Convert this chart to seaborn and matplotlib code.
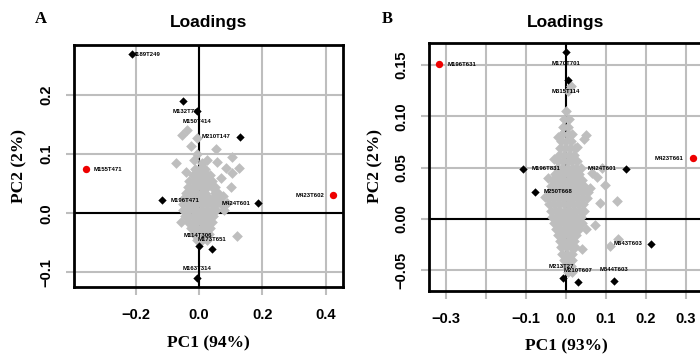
import matplotlib
matplotlib.use("Agg")
import matplotlib.pyplot as plt
import seaborn as sns
import pandas as pd

sns.set_style("white")
plt.rcParams['font.family'] = ['Liberation Sans', 'DejaVu Sans']
plt.rcParams['text.color'] = 'black'
plt.rcParams['xtick.labelcolor'] = 'black'
plt.rcParams['ytick.labelcolor'] = 'black'

# ============================================================
#  DATA — panel A (PC1 94%)
# ============================================================

a_gray = [
    (-0.012, 0.075), (0.003, 0.075), (0.018, 0.075),
    (-0.020, 0.065), (-0.005, 0.065), (0.010, 0.065), (0.025, 0.065), (0.035, 0.065),
    (-0.030, 0.055), (-0.015, 0.055), (0.000, 0.055), (0.015, 0.055), (0.030, 0.055), (0.040, 0.055),
    (-0.035, 0.045), (-0.020, 0.045), (-0.005, 0.045), (0.010, 0.045), (0.025, 0.045), (0.040, 0.045), (0.050, 0.045),
    (-0.040, 0.035), (-0.025, 0.035), (-0.010, 0.035), (0.005, 0.035), (0.020, 0.035), (0.050, 0.035), (0.060, 0.035),
    (-0.045, 0.025), (-0.030, 0.025), (-0.015, 0.025), (0.000, 0.025), (0.015, 0.025), (0.030, 0.025), (0.045, 0.025), (0.060, 0.025),
    (-0.050, 0.015), (-0.035, 0.015), (-0.020, 0.015), (-0.005, 0.015), (0.010, 0.015), (0.025, 0.015), (0.040, 0.015), (0.055, 0.015), (0.070, 0.015),
    (-0.050, 0.005), (-0.035, 0.005), (-0.020, 0.005), (-0.005, 0.005), (0.010, 0.005), (0.025, 0.005), (0.040, 0.005), (0.055, 0.005),
    (-0.045, -0.005), (-0.030, -0.005), (-0.015, -0.005), (0.000, -0.005), (0.015, -0.005), (0.030, -0.005), (0.045, -0.005),
    (-0.035, -0.015), (-0.020, -0.015), (-0.005, -0.015), (0.010, -0.015), (0.025, -0.015), (0.040, -0.015),
    (-0.025, -0.025), (-0.010, -0.025), (0.005, -0.025), (0.020, -0.025), (0.035, -0.025),
    (-0.015, -0.035), (0.000, -0.035), (0.015, -0.035), (0.030, -0.035),
    (-0.005, -0.045), (0.010, -0.045), (0.025, -0.045),
    (-0.054, 0.132), (-0.038, 0.141), (-0.026, 0.114), (-0.006, 0.127), (0.053, 0.109),
    (-0.072, 0.085), (-0.016, 0.090), (0.025, 0.090), (0.057, 0.087), (0.104, 0.095),
    (0.085, 0.076), (0.104, 0.068), (0.126, 0.076), (0.100, 0.044), (-0.057, -0.015),
    (0.120, -0.039), (-0.047, 0.025), (0.088, 0.017), (0.075, 0.030), (-0.005, 0.100),
    (0.010, 0.085), (0.070, 0.060), (-0.040, 0.070), (0.080, 0.005),
]
a_black_x = [-0.211, -0.050, -0.006, 0.129, -0.117, 0.186, 0.000, 0.041, -0.006]
a_black_y = [0.269, 0.190, 0.173, 0.129, 0.022, 0.017, -0.056, -0.061, -0.110]
a_red_x = [-0.356, 0.422]
a_red_y = [0.075, 0.031]
a_labels = ["M189T249", "M132T78", "M150T414", "M210T147", "M155T471", "M423T602",
            "M196T471", "M424T601", "M114T306", "M173T651", "M163T314"]
a_label_x = [-0.167, -0.044, -0.005, 0.055, -0.287, 0.350, -0.0425, 0.1165, -0.002, 0.0425, -0.005]
a_label_y = [0.269, 0.173, 0.156, 0.130, 0.0746, 0.0305, 0.022, 0.017, -0.037, -0.044, -0.093]
a_xticks = [-0.2, 0.0, 0.2, 0.4]
a_xticklabels = ["\u22120.2", "0.0", "0.2", "0.4"]
a_yticks = [-0.1, 0.0, 0.1, 0.2]
a_yticklabels = ["\u22120.1", "0.0", "0.1", "0.2"]

# ============================================================
#  DATA — panel B (PC1 93%)
# ============================================================

b_gray = [
    (0.000, 0.105),
    (-0.005, 0.097), (0.007, 0.097),
    (-0.008, 0.090), (0.005, 0.090),
    (-0.010, 0.083), (0.005, 0.083), (0.015, 0.083),
    (-0.012, 0.076), (0.000, 0.076), (0.012, 0.076),
    (-0.015, 0.069), (-0.002, 0.069), (0.010, 0.069), (0.022, 0.069),
    (-0.018, 0.062), (-0.005, 0.062), (0.008, 0.062), (0.020, 0.062),
    (-0.020, 0.056), (-0.008, 0.056), (0.004, 0.056), (0.016, 0.056), (0.028, 0.056),
    (-0.022, 0.050), (-0.010, 0.050), (0.002, 0.050), (0.014, 0.050), (0.026, 0.050), (0.038, 0.050),
    (-0.028, 0.044), (-0.016, 0.044), (-0.004, 0.044), (0.008, 0.044), (0.020, 0.044), (0.032, 0.044),
    (-0.032, 0.038), (-0.020, 0.038), (-0.008, 0.038), (0.004, 0.038), (0.016, 0.038), (0.028, 0.038), (0.040, 0.038),
    (-0.038, 0.032), (-0.026, 0.032), (-0.014, 0.032), (-0.002, 0.032), (0.010, 0.032), (0.022, 0.032), (0.034, 0.032), (0.046, 0.032),
    (-0.042, 0.026), (-0.030, 0.026), (-0.018, 0.026), (-0.006, 0.026), (0.006, 0.026), (0.018, 0.026), (0.030, 0.026), (0.042, 0.026), (0.055, 0.026),
    (-0.044, 0.020), (-0.032, 0.020), (-0.020, 0.020), (-0.008, 0.020), (0.004, 0.020), (0.016, 0.020), (0.028, 0.020), (0.040, 0.020), (0.052, 0.020),
    (-0.042, 0.014), (-0.030, 0.014), (-0.018, 0.014), (-0.006, 0.014), (0.006, 0.014), (0.018, 0.014), (0.030, 0.014), (0.042, 0.014),
    (-0.038, 0.008), (-0.026, 0.008), (-0.014, 0.008), (-0.002, 0.008), (0.010, 0.008), (0.022, 0.008), (0.034, 0.008), (0.046, 0.008),
    (-0.034, 0.002), (-0.022, 0.002), (-0.010, 0.002), (0.002, 0.002), (0.014, 0.002), (0.026, 0.002), (0.038, 0.002),
    (-0.030, -0.004), (-0.018, -0.004), (-0.006, -0.004), (0.006, -0.004), (0.018, -0.004), (0.030, -0.004), (0.040, -0.004),
    (-0.026, -0.010), (-0.014, -0.010), (-0.002, -0.010), (0.010, -0.010), (0.022, -0.010), (0.032, -0.010),
    (-0.020, -0.016), (-0.008, -0.016), (0.004, -0.016), (0.016, -0.016), (0.026, -0.016),
    (-0.016, -0.022), (-0.004, -0.022), (0.008, -0.022), (0.020, -0.022),
    (-0.012, -0.028), (0.000, -0.028), (0.012, -0.028), (0.022, -0.028),
    (-0.010, -0.034), (0.002, -0.034), (0.014, -0.034),
    (-0.006, -0.040), (0.006, -0.040), (0.016, -0.040),
    (0.000, -0.046), (0.012, -0.046),
    (0.004, -0.052), (0.015, -0.052),
    (0.0125, 0.130), (0.005, 0.125), (-0.020, 0.080), (0.050, 0.082), (0.045, 0.078),
    (0.0275, 0.070), (0.0775, 0.041), (0.0975, 0.033), (0.1275, 0.0176), (0.0725, -0.006),
    (0.130, -0.020), (0.110, -0.027), (-0.0525, 0.021), (0.060, 0.030), (0.085, 0.015),
    (0.065, 0.045), (0.090, 0.050), (0.050, -0.010), (0.040, -0.030), (-0.045, 0.040),
    (-0.030, 0.058),
]
b_black_x = [0.000, 0.005, -0.107, 0.150, -0.0775, 0.2125, 0.120, -0.0075, 0.030]
b_black_y = [0.163, 0.135, 0.049, 0.049, 0.026, -0.0245, -0.061, -0.058, -0.062]
b_red_x = [-0.3175, 0.3175]
b_red_y = [0.151, 0.059]
b_labels = ["M196T631", "M170T701", "M315T114", "M423T661", "M196T831", "M424T601",
            "M250T668", "M643T603", "M544T603", "M213T27", "M210T607"]
b_label_x = [-0.259, 0.000, 0.000, 0.2575, -0.050, 0.091, -0.020, 0.154, 0.120, -0.0125, 0.031]
b_label_y = [0.151, 0.152, 0.1245, 0.0588, 0.049, 0.049, 0.0265, -0.0245, -0.050, -0.047, -0.051]
b_xticks = [-0.3, -0.2, -0.1, 0.0, 0.1, 0.2, 0.3]
b_xticklabels = ["\u22120.3", "", "\u22120.1", "0.0", "0.1", "0.2", "0.3"]
b_yticks = [-0.05, 0.0, 0.05, 0.10, 0.15]
b_yticklabels = ["\u22120.05", "0.00", "0.05", "0.10", "0.15"]

GRID = "#bebebe"
W, H = 700, 354


# ============================================================
#  PLOT — one loadings panel
# ============================================================

def loadings_panel(ax, gray, bx, by, rx, ry, labels, lx, ly,
                   xticks, xticklabels, yticks, yticklabels, xlim, ylim):
    gray_df = pd.DataFrame(gray, columns=["pc1", "pc2"])

    ax.set_xlim(*xlim)
    ax.set_ylim(*ylim)
    for x in xticks:
        ax.axvline(x, color=GRID, lw=1.5, zorder=0)
    for y in yticks:
        ax.axhline(y, color=GRID, lw=1.5, zorder=0)
    ax.axhline(0, color="black", lw=1.5, zorder=1)
    ax.axvline(0, color="black", lw=1.5, zorder=1)

    sns.scatterplot(data=gray_df, x="pc1", y="pc2", marker="D", s=30,
                    color=GRID, linewidth=0, ax=ax, zorder=2)
    sns.scatterplot(x=bx, y=by, marker="D", s=18, color="black",
                    linewidth=0, ax=ax, zorder=3)
    sns.scatterplot(x=rx, y=ry, marker="o", s=28, color="#ee0000",
                    linewidth=0, ax=ax, zorder=3)
    for t, x, y in zip(labels, lx, ly):
        ax.text(x, y, t, fontsize=4.3, fontweight="bold", ha="center",
                va="center", color="black", zorder=4)

    ax.set_xticks(xticks)
    ax.set_xticklabels(xticklabels)
    ax.set_yticks(yticks)
    ax.set_yticklabels(yticklabels, rotation=90, va="center")
    ax.tick_params(length=6, width=1.5, color=GRID, labelcolor="black", pad=9,
                   labelsize=10.5, bottom=True, left=True)
    for lab in ax.get_xticklabels() + ax.get_yticklabels():
        lab.set_fontweight("bold")
    for sp in ax.spines.values():
        sp.set_color("black")
        sp.set_linewidth(2)
        sp.set_zorder(5)
    ax.set_xlabel("")
    ax.set_ylabel("")


fig = plt.figure(figsize=(7, 3.54), dpi=100)

ax_a = fig.add_axes([74 / W, 1 - 287 / H, 269 / W, 242 / H])
loadings_panel(ax_a, a_gray, a_black_x, a_black_y, a_red_x, a_red_y,
               a_labels, a_label_x, a_label_y,
               a_xticks, a_xticklabels, a_yticks, a_yticklabels,
               (-0.394, 0.454), (-0.125, 0.285))

ax_b = fig.add_axes([429 / W, 1 - 291 / H, 275 / W, 248 / H])
loadings_panel(ax_b, b_gray, b_black_x, b_black_y, b_red_x, b_red_y,
               b_labels, b_label_x, b_label_y,
               b_xticks, b_xticklabels, b_yticks, b_yticklabels,
               (-0.3425, 0.345), (-0.0706, 0.1716))

# titles, panel letters and axis labels
serif = ['Liberation Serif', 'DejaVu Serif']
for cx, xlab, ylab_x, xlab_y in [(208.5, "PC1 (94%)", 19, 343),
                                 (566, "PC1 (93%)", 375, 346)]:
    fig.text(cx / W, 1 - 22 / H, "Loadings", fontsize=12.5, fontweight="bold",
             ha="center", va="center")
    fig.text(cx / W, 1 - xlab_y / H, xlab, fontsize=12.5, fontweight="bold",
             family=serif, ha="center", va="center")
    fig.text(ylab_x / W, 1 - 166 / H, "PC2 (2%)", fontsize=12.5, fontweight="bold",
             family=serif, rotation=90, ha="center", va="center")
fig.text(41 / W, 1 - 19 / H, "A", fontsize=12, fontweight="bold", family=serif,
         ha="center", va="center")
fig.text(387 / W, 1 - 19 / H, "B", fontsize=12, fontweight="bold", family=serif,
         ha="center", va="center")

fig.savefig("out.png", dpi=100, facecolor="white")
